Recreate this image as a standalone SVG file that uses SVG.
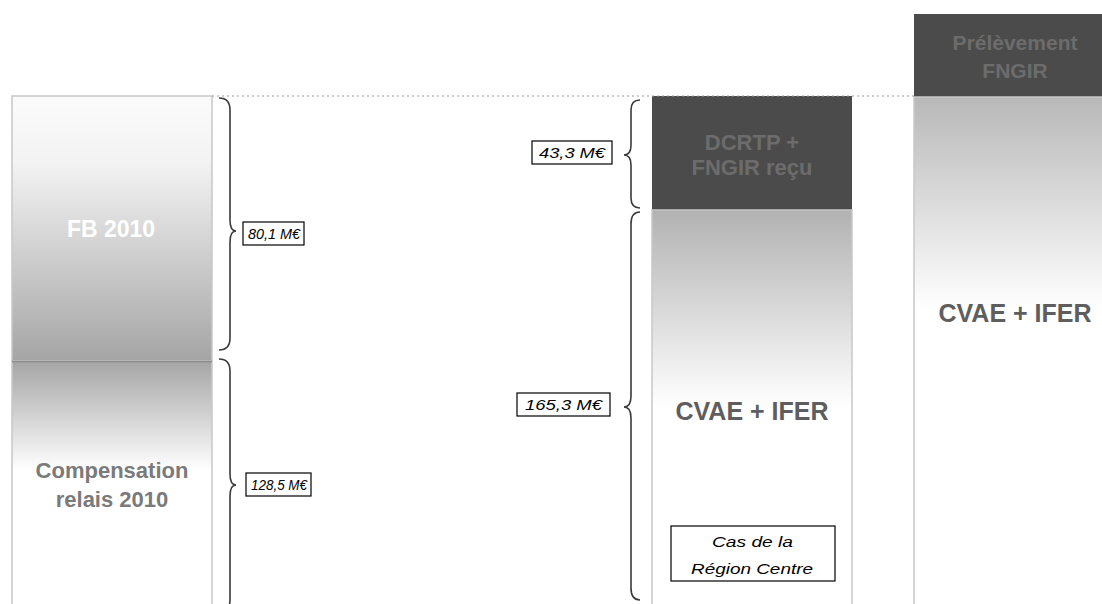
<svg xmlns="http://www.w3.org/2000/svg" width="1102" height="604" viewBox="0 0 1102 604">
<defs>
<linearGradient id="gFB" x1="0" y1="0" x2="0" y2="1">
<stop offset="0" stop-color="#fbfbfb"/><stop offset="0.25" stop-color="#f3f3f3"/><stop offset="1" stop-color="#a5a5a5"/>
</linearGradient>
<linearGradient id="gComp" x1="0" y1="361" x2="0" y2="604" gradientUnits="userSpaceOnUse">
<stop offset="0" stop-color="#a5a5a5"/><stop offset="0.45" stop-color="#ffffff"/><stop offset="1" stop-color="#ffffff"/>
</linearGradient>
<linearGradient id="gMid" x1="0" y1="210" x2="0" y2="604" gradientUnits="userSpaceOnUse">
<stop offset="0" stop-color="#b2b2b2"/><stop offset="0.5" stop-color="#ffffff"/><stop offset="1" stop-color="#ffffff"/>
</linearGradient>
<linearGradient id="gRight" x1="0" y1="97" x2="0" y2="604" gradientUnits="userSpaceOnUse">
<stop offset="0" stop-color="#b8b8b8"/><stop offset="0.42" stop-color="#ffffff"/><stop offset="1" stop-color="#ffffff"/>
</linearGradient>
</defs>
<style>
.col{stroke:#c8c8c8;stroke-width:1.5}
.dark{fill:#4b4b4b}
.t{font-family:"Liberation Sans",Arial,sans-serif;font-weight:bold;text-anchor:middle}
.lbl{font-family:"Liberation Sans",Arial,sans-serif;font-style:italic;font-size:15px;text-anchor:middle;fill:#000}
.box{fill:#fff;stroke:#000;stroke-width:1.2}
.brace{fill:none;stroke:#3a3a3a;stroke-width:1.6}
</style>
<rect width="1102" height="604" fill="#fff"/>
<g id="fb2010">
<rect x="12" y="96" width="200" height="265" fill="url(#gFB)" class="col"/>
<text class="t" x="111" y="237" font-size="23" fill="#ffffff">FB 2010</text>
</g>
<g id="compensation">
<rect x="12" y="361" width="200" height="260" fill="url(#gComp)" class="col"/>
<line x1="12" y1="361.5" x2="212" y2="361.5" stroke="#8a8a8a" stroke-width="1.5"/>
<text class="t" x="112" y="478" font-size="22" fill="#7a7a7a">Compensation</text>
<text class="t" x="112" y="507" font-size="22" fill="#7a7a7a">relais 2010</text>
</g>
<g id="dcrtp">
<rect x="652" y="96" width="200" height="114" class="dark"/>
<text class="t" x="752" y="150" font-size="22" fill="#6c6c6c">DCRTP +</text>
<text class="t" x="752" y="175" font-size="22" fill="#6c6c6c">FNGIR reçu</text>
</g>
<g id="cvae-mid">
<rect x="652" y="210" width="200" height="410" fill="url(#gMid)" class="col"/>
<text class="t" x="752" y="420" font-size="25" fill="#5e5e5e">CVAE + IFER</text>
</g>
<g id="cas">
<rect x="671" y="526" width="164" height="55" class="box"/>
<text class="lbl" x="752.5" y="547" font-size="16" textLength="81" lengthAdjust="spacingAndGlyphs">Cas de la</text>
<text class="lbl" x="752" y="574" font-size="16" textLength="122" lengthAdjust="spacingAndGlyphs">Région Centre</text>
</g>
<g id="prelevement">
<rect x="914" y="14" width="200" height="83" class="dark"/>
<text class="t" x="1015" y="50" font-size="21" fill="#6c6c6c">Prélèvement</text>
<text class="t" x="1015" y="78" font-size="21" fill="#6c6c6c">FNGIR</text>
</g>
<g id="cvae-right">
<rect x="914" y="97" width="200" height="520" fill="url(#gRight)" class="col"/>
<text class="t" x="1015" y="322" font-size="25" fill="#5e5e5e">CVAE + IFER</text>
</g>
<g id="connectors">
<line x1="212" y1="96" x2="914" y2="96" stroke="#9a9a9a" stroke-width="1.2" stroke-dasharray="2,3"/>
<path class="brace" d="M219,98 Q230,98 230,110 L230,220 Q230,231 236,231 Q230,231 230,242 L230,338 Q230,350 219,350"/>
<path class="brace" d="M219,359 Q230,359 230,371 L230,474 Q230,485 236,485 Q230,485 230,496 L230,600 Q230,612 219,612"/>
<path class="brace" d="M640,100 Q631,100 631,110 L631,145 Q631,155 624,155 Q631,155 631,165 L631,198 Q631,208 640,208"/>
<path class="brace" d="M640,212 Q631,212 631,224 L631,396 Q631,407 624,407 Q631,407 631,418 L631,588 Q631,600 640,600"/>
</g>
<g id="label-80">
<rect x="243" y="222" width="61" height="23" class="box"/>
<text class="lbl" x="274" y="239" textLength="52" lengthAdjust="spacingAndGlyphs">80,1 M€</text>
</g>
<g id="label-128">
<rect x="246" y="473" width="65" height="23" class="box"/>
<text class="lbl" x="279" y="490" textLength="56" lengthAdjust="spacingAndGlyphs">128,5 M€</text>
</g>
<g id="label-43">
<rect x="532" y="141" width="80" height="23" class="box"/>
<text class="lbl" x="572" y="158" textLength="66" lengthAdjust="spacingAndGlyphs">43,3 M€</text>
</g>
<g id="label-165">
<rect x="517" y="393" width="93" height="23" class="box"/>
<text class="lbl" x="563.5" y="410" textLength="77" lengthAdjust="spacingAndGlyphs">165,3 M€</text>
</g>
</svg>
